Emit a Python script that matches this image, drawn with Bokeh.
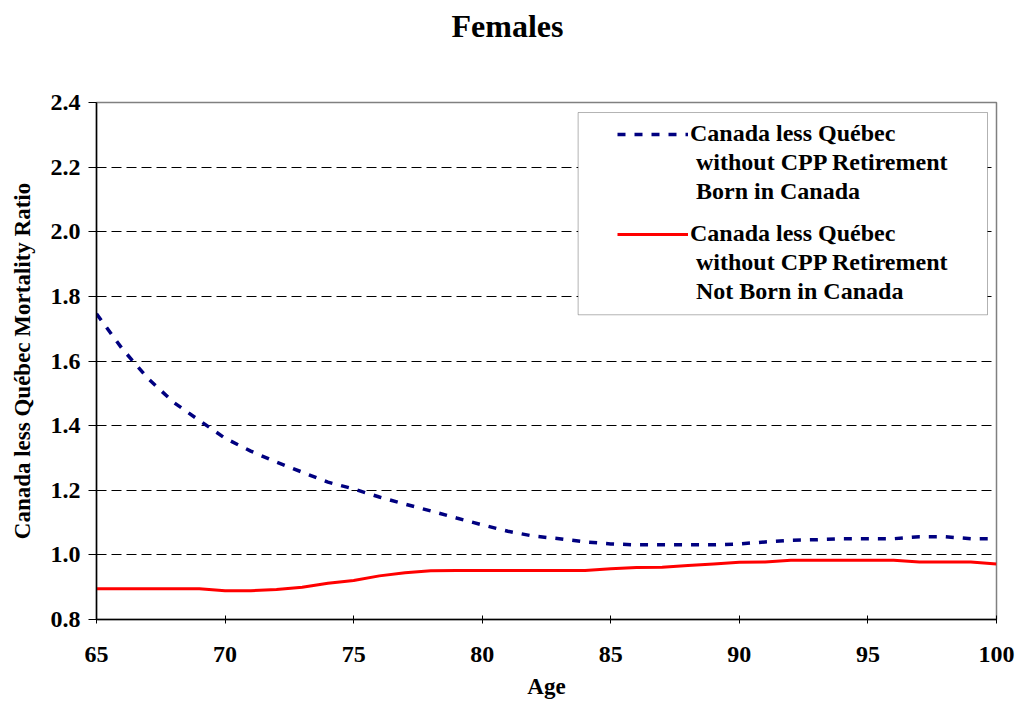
from bokeh.plotting import figure
from bokeh.models import (ColumnDataSource, Legend, LegendItem, BoxAnnotation, Title,
                          FixedTicker, NumeralTickFormatter, Range1d)
from bokeh.embed import file_html
from bokeh.resources import INLINE

ages = list(range(65, 101))
born_in_canada = [1.746, 1.638, 1.546, 1.472, 1.416, 1.361, 1.321, 1.287, 1.256, 1.225,
                  1.204, 1.179, 1.157, 1.136, 1.114, 1.093, 1.073, 1.058, 1.050, 1.040,
                  1.034, 1.031, 1.031, 1.031, 1.031, 1.034, 1.040, 1.045, 1.047, 1.050,
                  1.050, 1.050, 1.056, 1.056, 1.050, 1.050]
not_born_in_canada = [0.895, 0.895, 0.895, 0.895, 0.895, 0.889, 0.889, 0.893, 0.900, 0.912,
                      0.921, 0.935, 0.945, 0.951, 0.952, 0.952, 0.952, 0.952, 0.952, 0.952,
                      0.957, 0.961, 0.962, 0.967, 0.972, 0.977, 0.978, 0.983, 0.983, 0.983,
                      0.983, 0.983, 0.978, 0.978, 0.978, 0.972]
y_ticks = [0.8, 1.0, 1.2, 1.4, 1.6, 1.8, 2.0, 2.2, 2.4]
x_ticks = [65, 70, 75, 80, 85, 90, 95, 100]
label_blue = ["Canada less Québec", " without CPP Retirement", " Born in Canada"]
label_red = ["Canada less Québec", " without CPP Retirement", " Not Born in Canada"]
title_text = "Females"

FONT = "Liberation Serif"

src = ColumnDataSource(dict(age=ages, blue=born_in_canada, red=not_born_in_canada))

p = figure(width=1018, height=703, output_backend="svg", toolbar_location=None,
           x_range=Range1d(65, 100), y_range=Range1d(0.8, 2.4),
           min_border_left=96, min_border_right=22, min_border_top=100, min_border_bottom=84)

p.title.text = title_text
p.title.text_font = FONT
p.title.text_font_size = "32px"
p.title.text_font_style = "bold"
p.title.text_color = "black"
p.title.align = "left"
p.title.offset = 355
# empty spacer title between the real title and the frame
spacer = Title(text=" ", text_font=FONT, text_font_size="38px")
p.add_layout(spacer, "above")

p.outline_line_color = "#808080"
p.outline_line_width = 1.5

p.xgrid.visible = False
p.ygrid.grid_line_color = "black"
p.ygrid.grid_line_dash = "10 5"
p.ygrid.grid_line_width = 1
p.ygrid.ticker = FixedTicker(ticks=y_ticks)

p.yaxis.ticker = FixedTicker(ticks=y_ticks)
p.xaxis.ticker = FixedTicker(ticks=x_ticks)
p.yaxis.formatter = NumeralTickFormatter(format="0.0")

for ax in (p.xaxis[0], p.yaxis[0]):
    ax.axis_line_color = "black"
    ax.axis_line_width = 1.5
    ax.major_tick_line_color = "black"
    ax.minor_tick_line_color = None
    ax.major_label_text_font = FONT
    ax.major_label_text_font_size = "24px"
    ax.major_label_text_font_style = "bold"
    ax.major_label_text_color = "black"
    ax.axis_label_text_font = FONT
    ax.axis_label_text_font_size = "23px"
    ax.axis_label_text_font_style = "bold"
    ax.axis_label_text_color = "black"

p.yaxis.major_tick_in = 0
p.yaxis.major_tick_out = 8
p.yaxis.major_label_standoff = 8
p.yaxis.axis_label = "Canada less Québec Mortality Ratio"
p.yaxis.axis_label_standoff = 13

p.xaxis.major_tick_in = 4
p.xaxis.major_tick_out = 4
p.xaxis.major_label_standoff = 23
p.xaxis.axis_label = "Age"
p.xaxis.axis_label_standoff = 9

r_blue = p.line("age", "blue", source=src, line_color="#000080", line_width=3.5,
                line_dash="8 9")
r_red = p.line("age", "red", source=src, line_color="#FF0000", line_width=3)

box = BoxAnnotation(left=83.73, right=99.65, bottom=1.743, top=2.369,
                    fill_color="white", fill_alpha=1.0, line_color="black", line_width=1)
p.add_layout(box)


def make_legend(lines, renderer, loc):
    items = [LegendItem(label=lines[0], renderers=[renderer])]
    for t in lines[1:]:
        items.append(LegendItem(label=t, renderers=[]))
    lg = Legend(items=items, location=loc, padding=0, margin=0, spacing=0,
                glyph_width=71, glyph_height=20, label_height=29, label_standoff=2,
                border_line_alpha=0, background_fill_alpha=0,
                label_text_font=FONT, label_text_font_size="24px",
                label_text_font_style="bold", label_text_color="black",
                click_policy="none")
    return lg


p.add_layout(make_legend(label_blue, r_blue, (521, 413)))
p.add_layout(make_legend(label_red, r_red, (521, 313)))

open("out.html", "w").write(file_html(p, INLINE))
